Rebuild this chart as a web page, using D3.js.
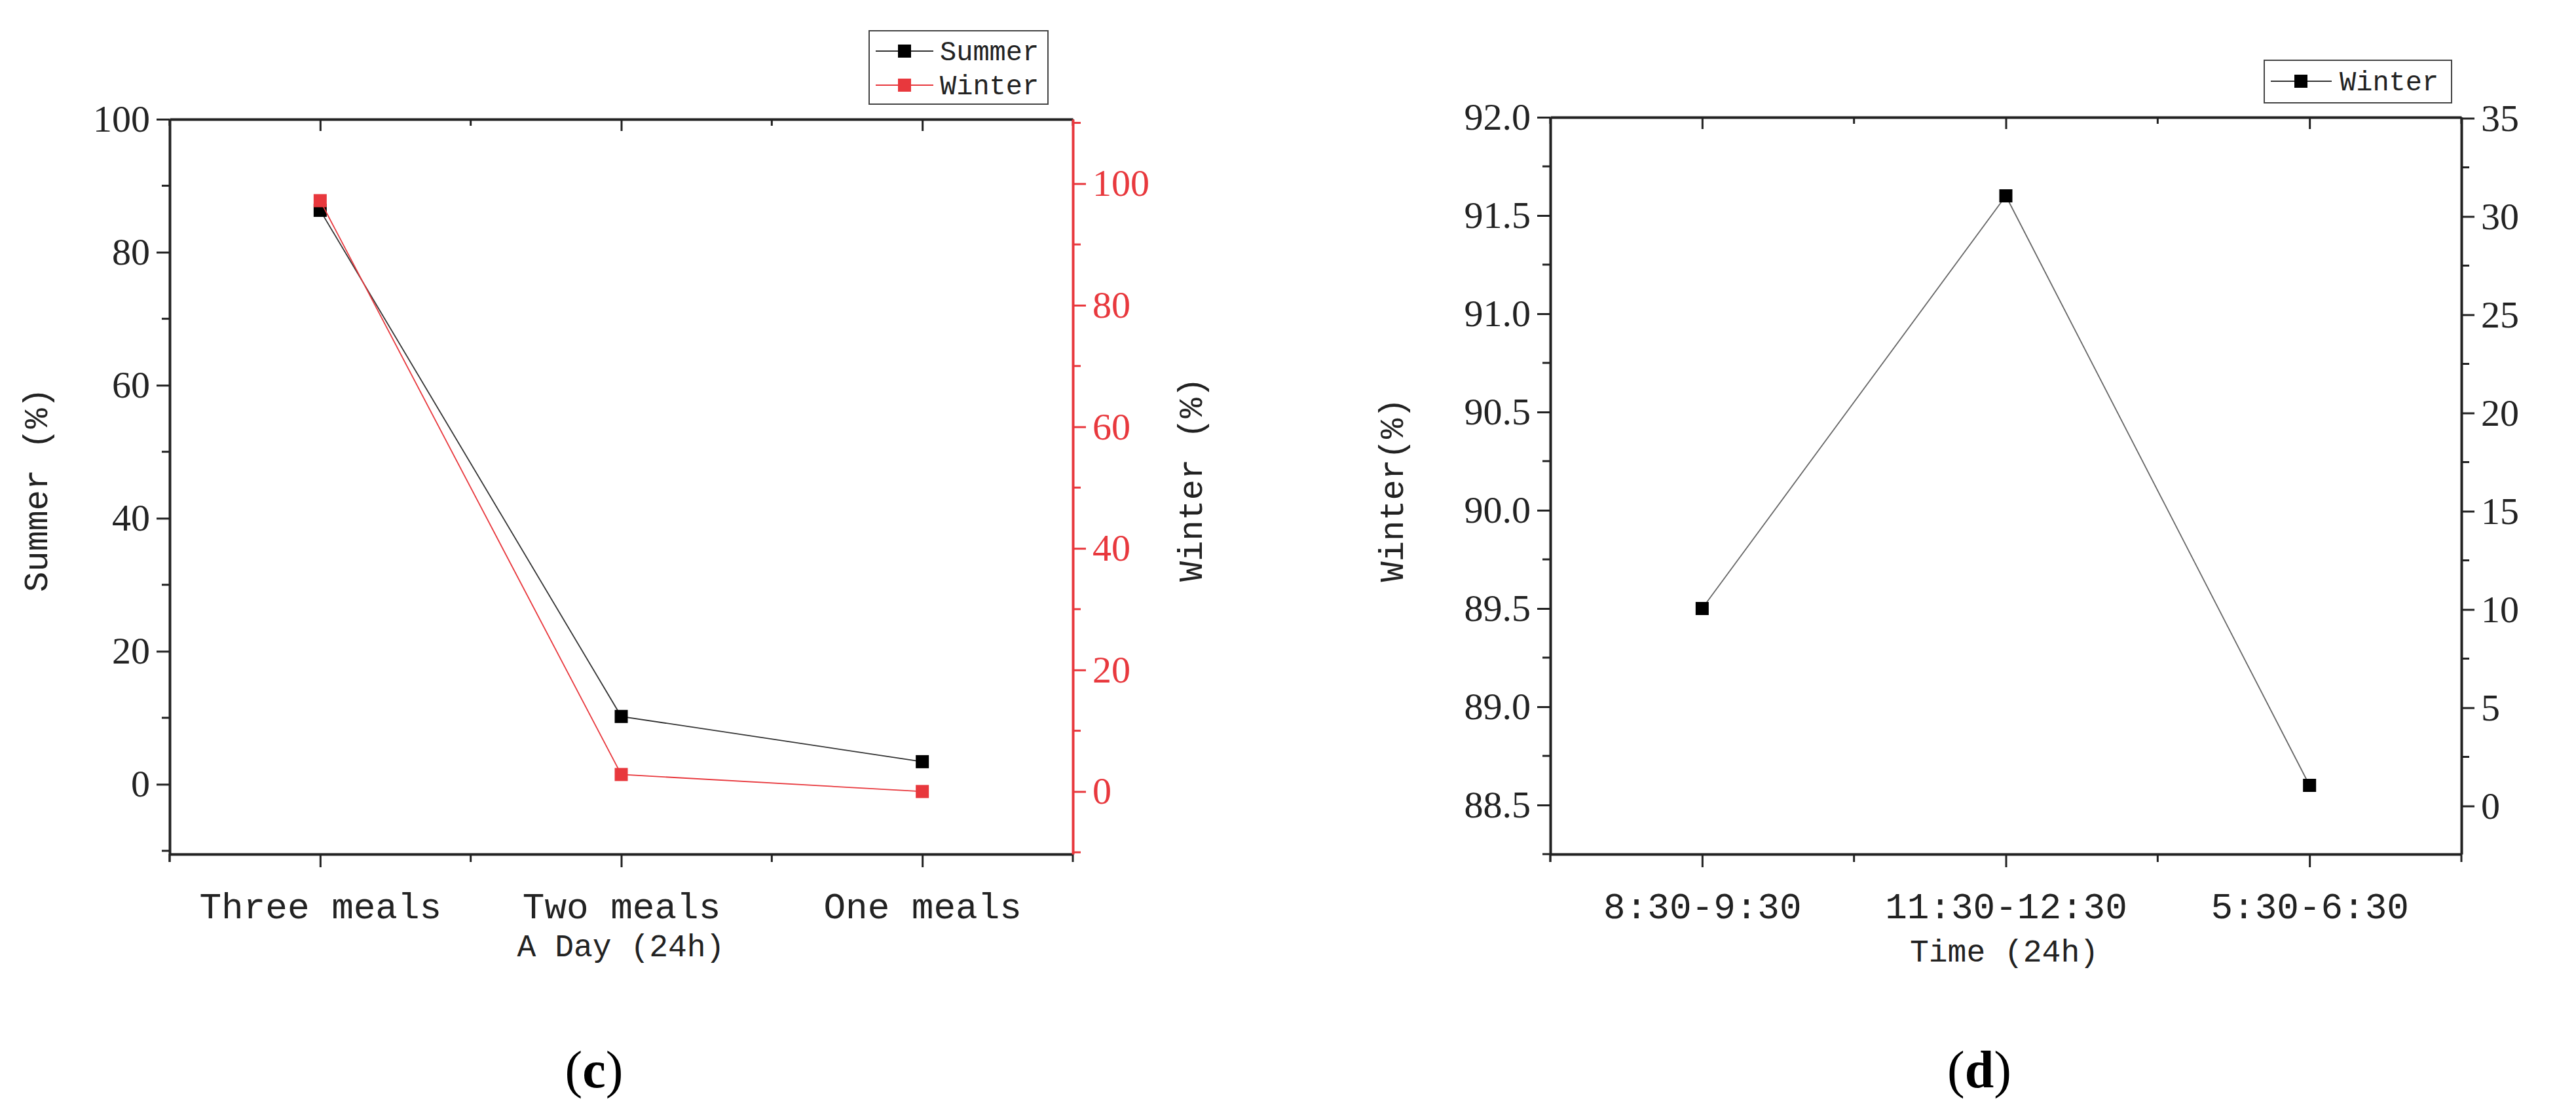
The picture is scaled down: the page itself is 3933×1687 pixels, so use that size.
<!DOCTYPE html>
<html><head><meta charset="utf-8">
<script src="https://cdn.jsdelivr.net/npm/d3@7"></script>
<style>body{margin:0;background:#fff}</style></head>
<body><svg id="c" width="3933" height="1687"></svg>
<script>
const mealCats = ["Three meals", "Two meals", "One meals"];
const summerVals = [86.3, 10.2, 3.4];
const winterVals = [97.2, 2.8, 0.0];
const timeCats = ["8:30-9:30", "11:30-12:30", "5:30-6:30"];
const winterTimeVals = [89.5, 91.6, 88.6];
const leftTicks = [0, 20, 40, 60, 80, 100];
const rightTicks = [0, 20, 40, 60, 80, 100];
const dLeftTicks = [88.5, 89.0, 89.5, 90.0, 90.5, 91.0, 91.5, 92.0];
const dRightTicks = [0, 5, 10, 15, 20, 25, 30, 35];

const svg = d3.select("#c");
const RED = "#e8383d";
const NUM = "'Liberation Serif', serif";
const MONO = "'Liberation Mono', monospace";

function styleAxis(g, color, fontFam, fs) {
  g.selectAll("path").attr("stroke", color).attr("stroke-width", 4);
  g.selectAll("line").attr("stroke", color).attr("stroke-width", 3);
  g.selectAll("text").attr("fill", color).attr("font-family", fontFam).attr("font-size", fs);
}
function minor(g, scale, vals, orient, len, color) {
  // minor ticks drawn as lines via scale
  g.selectAll(null).data(vals).enter().append("line")
    .attr(orient==="x"?"x1":"y1", d=>scale(d)).attr(orient==="x"?"x2":"y2", d=>scale(d))
    .attr(orient==="x"?"y1":"x1", 0).attr(orient==="x"?"y2":"x2", len)
    .attr("stroke", color).attr("stroke-width", 3);
}

function panel(o) {
  const {L,R,T,B} = o;
  const x = d3.scalePoint().domain(o.cats).range([L,R]).padding(0.5);
  const step = x.step();
  const xMinor = o.cats.map((c)=>x(c)).flatMap(v=>[v-step/2]).concat([R]);
  const yL = d3.scaleLinear().domain(o.yLdom).range([B,T]);
  const yR = d3.scaleLinear().domain(o.yRdom).range([B,T]);
  // top axis (inward ticks, no labels)
  const top = svg.append("g").attr("transform",`translate(0,${T})`)
    .call(d3.axisBottom(x).tickSize(18).tickSizeOuter(0).tickFormat(""));
  styleAxis(top,"#222",MONO,56);
  minor(top, v=>v, xMinor, "x", 10, "#222");
  // bottom axis
  const bot = svg.append("g").attr("transform",`translate(0,${B})`)
    .call(d3.axisBottom(x).tickSize(20).tickSizeOuter(0).tickPadding(38));
  styleAxis(bot,"#222",MONO,56);
  minor(bot, v=>v, xMinor.concat([L]), "x", 12, "#222");
  // left axis
  const la = svg.append("g").attr("transform",`translate(${L},0)`)
    .call(d3.axisLeft(yL).tickValues(o.lTicks).tickSize(20).tickSizeOuter(0).tickPadding(10).tickFormat(o.lFmt));
  styleAxis(la,"#222",NUM,58);
  minor(la, yL, o.lMinor, "y", -12, "#222");
  // right axis
  const ra = svg.append("g").attr("transform",`translate(${R},0)`)
    .call(d3.axisRight(yR).tickValues(o.rTicks).tickSize(20).tickSizeOuter(0).tickPadding(10).tickFormat(o.rFmt));
  styleAxis(ra,o.rColor,NUM,58);
  minor(ra, yR, o.rMinor, "y", 12, o.rColor);
  return {x,yL,yR};
}

function series(x, y, cats, vals, color, lineColor) {
  const line = d3.line().x((d,i)=>x(cats[i])).y(d=>y(d));
  svg.append("path").datum(vals).attr("d",line).attr("fill","none")
    .attr("stroke",lineColor).attr("stroke-width",1.8);
  svg.selectAll(null).data(vals).enter().append("rect")
    .attr("x",(d,i)=>x(cats[i])-10).attr("y",d=>y(d)-10)
    .attr("width",20).attr("height",20).attr("fill",color);
}

// ---------- Panel (c)
const c = panel({L:259,R:1638,T:182,B:1304,cats:mealCats,
  yLdom:[-10.5,100], yRdom:[-10.3,110.6],
  lTicks:leftTicks, rTicks:rightTicks, lFmt:d3.format("d"), rFmt:d3.format("d"),
  lMinor:[-10,10,30,50,70,90], rMinor:[-10,10,30,50,70,90,110], rColor:RED});
series(c.x, c.yL, mealCats, summerVals, "#000", "#333");
series(c.x, c.yR, mealCats, winterVals, RED, RED);
svg.append("text").attr("transform","translate(72,748) rotate(-90)").attr("text-anchor","middle")
  .attr("font-family",MONO).attr("font-size",52).attr("fill","#222").text("Summer (%)");
svg.append("text").attr("transform","translate(1835,732) rotate(-90)").attr("text-anchor","middle")
  .attr("font-family",MONO).attr("font-size",52).attr("fill","#222").text("Winter (%)");
svg.append("text").attr("x",948).attr("y",1460).attr("text-anchor","middle")
  .attr("font-family",MONO).attr("font-size",48).attr("fill","#222").text("A Day (24h)");
// legend c
svg.append("rect").attr("x",1327).attr("y",47).attr("width",273).attr("height",112)
  .attr("fill","#fff").attr("stroke","#444").attr("stroke-width",2);
[["Summer","#000","#333",78],["Winter",RED,RED,130]].forEach(([t,col,lc,yy])=>{
  svg.append("line").attr("x1",1337).attr("x2",1425).attr("y1",yy).attr("y2",yy).attr("stroke",lc).attr("stroke-width",1.8);
  svg.append("rect").attr("x",1371).attr("y",yy-10).attr("width",20).attr("height",20).attr("fill",col);
  svg.append("text").attr("x",1435).attr("y",yy+14).attr("font-family",MONO).attr("font-size",42).attr("fill","#222").text(t);
});
svg.append("text").attr("x",907).attr("y",1660).attr("text-anchor","middle")
  .attr("font-family",NUM).attr("font-size",80).attr("fill","#000").html("(<tspan font-weight='bold'>c</tspan>)");

// ---------- Panel (d)
const d = panel({L:2367,R:3758,T:179,B:1304,cats:timeCats,
  yLdom:[88.25,92.0], yRdom:[-2.45,35.05],
  lTicks:dLeftTicks, rTicks:dRightTicks, lFmt:d3.format(".1f"), rFmt:d3.format("d"),
  lMinor:[88.25,88.75,89.25,89.75,90.25,90.75,91.25,91.75], rMinor:[2.5,7.5,12.5,17.5,22.5,27.5,32.5], rColor:"#222"});
series(d.x, d.yL, timeCats, winterTimeVals, "#000", "#666");
svg.append("text").attr("transform","translate(2142,748) rotate(-90)").attr("text-anchor","middle")
  .attr("font-family",MONO).attr("font-size",52).attr("fill","#222").text("Winter(%)");
svg.append("text").attr("x",3060).attr("y",1468).attr("text-anchor","middle")
  .attr("font-family",MONO).attr("font-size",48).attr("fill","#222").text("Time (24h)");
svg.append("rect").attr("x",3457).attr("y",92).attr("width",286).attr("height",65)
  .attr("fill","#fff").attr("stroke","#444").attr("stroke-width",2);
svg.append("line").attr("x1",3467).attr("x2",3560).attr("y1",124).attr("y2",124).attr("stroke","#333").attr("stroke-width",1.8);
svg.append("rect").attr("x",3503).attr("y",114).attr("width",20).attr("height",20).attr("fill","#000");
svg.append("text").attr("x",3572).attr("y",138).attr("font-family",MONO).attr("font-size",42).attr("fill","#222").text("Winter");
svg.append("text").attr("x",3022).attr("y",1660).attr("text-anchor","middle")
  .attr("font-family",NUM).attr("font-size",80).attr("fill","#000").html("(<tspan font-weight='bold'>d</tspan>)");
</script></body></html>
